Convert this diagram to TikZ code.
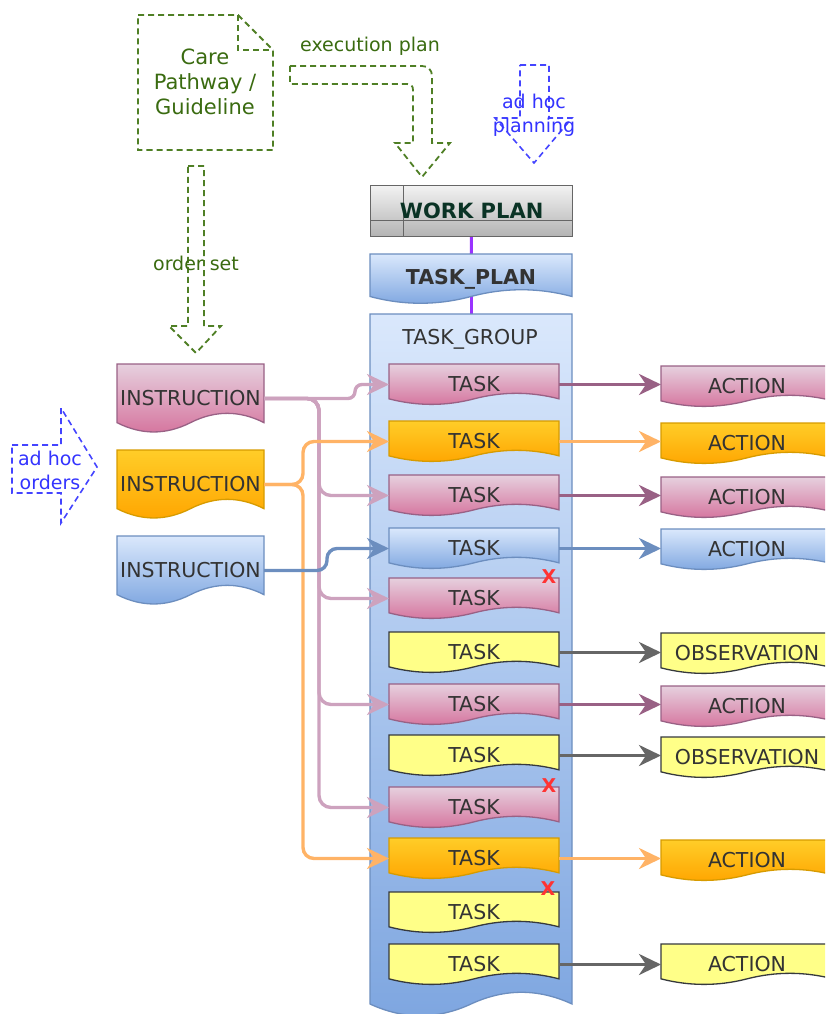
\documentclass[tikz,border=0pt]{standalone}
\usepackage{fontspec}
\setmainfont{DejaVu Sans}
\usetikzlibrary{arrows.meta}
\pgfdeclarelayer{bg}
\pgfsetlayers{bg,main}
\newdimen\dwxa \newdimen\dwya \newdimen\dwxb \newdimen\dwyb
\newdimen\dwdy \newdimen\dwbase \newdimen\dwcu \newdimen\dwcl
\newdimen\dwxq \newdimen\dwxm \newdimen\dwxt \newdimen\dww
\def\dwfrac{0.3}
\makeatletter
\pgfdeclareshape{docwave}{%
  \inheritsavedanchors[from=rectangle]%
  \inheritanchorborder[from=rectangle]%
  \inheritanchor[from=rectangle]{center}%
  \inheritanchor[from=rectangle]{north}%
  \inheritanchor[from=rectangle]{south}%
  \inheritanchor[from=rectangle]{east}%
  \inheritanchor[from=rectangle]{west}%
  \inheritanchor[from=rectangle]{north east}%
  \inheritanchor[from=rectangle]{north west}%
  \inheritanchor[from=rectangle]{south east}%
  \inheritanchor[from=rectangle]{south west}%
  \inheritanchor[from=rectangle]{text}%
  \inheritanchor[from=rectangle]{mid}%
  \inheritanchor[from=rectangle]{base}%
  \backgroundpath{%
    \southwest \dwxa=\pgf@x \dwya=\pgf@y
    \northeast \dwxb=\pgf@x \dwyb=\pgf@y
    \dwdy=\dwyb \advance\dwdy by -\dwya
    \dwdy=\dwfrac\dwdy
    \dww=\dwxb \advance\dww by -\dwxa
    \dwbase=\dwya \advance\dwbase by 0.5\dwdy
    \dwcu=\dwya \advance\dwcu by 1.4\dwdy
    \dwcl=\dwya \advance\dwcl by -0.4\dwdy
    \dwxq=\dwxa \advance\dwxq by 0.75\dww
    \dwxm=\dwxa \advance\dwxm by 0.5\dww
    \dwxt=\dwxa \advance\dwxt by 0.25\dww
    \pgfpathmoveto{\pgfqpoint{\dwxa}{\dwyb}}%
    \pgfpathlineto{\pgfqpoint{\dwxb}{\dwyb}}%
    \pgfpathlineto{\pgfqpoint{\dwxb}{\dwbase}}%
    \pgfpathquadraticcurveto{\pgfqpoint{\dwxq}{\dwcu}}{\pgfqpoint{\dwxm}{\dwbase}}%
    \pgfpathquadraticcurveto{\pgfqpoint{\dwxt}{\dwcl}}{\pgfqpoint{\dwxa}{\dwbase}}%
    \pgfpathclose
  }%
}
\makeatother
\definecolor{ctext}{HTML}{333333}
\definecolor{pinkT}{HTML}{E6D0DE}
\definecolor{pinkB}{HTML}{D5739D}
\definecolor{pinkS}{HTML}{996185}
\definecolor{pinkL}{HTML}{CDA2BE}
\definecolor{orT}{HTML}{FFCD28}
\definecolor{orB}{HTML}{FFA500}
\definecolor{orS}{HTML}{D79B00}
\definecolor{orL}{HTML}{FFB366}
\definecolor{blT}{HTML}{DAE8FC}
\definecolor{blB}{HTML}{7EA6E0}
\definecolor{blS}{HTML}{6C8EBF}
\definecolor{yeF}{HTML}{FFFF88}
\definecolor{yeS}{HTML}{36393D}
\definecolor{grL}{HTML}{666666}
\definecolor{wpT}{HTML}{F2F2F2}
\definecolor{wpB}{HTML}{B3B3B3}
\definecolor{wpText}{HTML}{0A3325}
\definecolor{purp}{HTML}{9933FF}
\definecolor{gdash}{HTML}{4F7F25}
\definecolor{gtext}{HTML}{3A6B10}
\definecolor{bdash}{HTML}{4444FF}
\definecolor{btext}{HTML}{3333FF}
\definecolor{xred}{HTML}{FF3333}
\tikzset{
  basefont/.style={font=\fontsize{20.5pt}{24pt}\selectfont, text=ctext},
  doc/.style={basefont, shape=docwave, inner sep=0pt, outer sep=0pt, line width=1.3pt, anchor=north west},
  taskbox/.style={doc, minimum width=170pt, minimum height=41pt},
  actbox/.style={doc, minimum width=172pt, minimum height=41pt},
  instbox/.style={doc, minimum width=147pt, minimum height=69pt},
  pinkf/.style={top color=pinkT, bottom color=pinkB, draw=pinkS},
  orf/.style={top color=orT, bottom color=orB, draw=orS},
  blf/.style={top color=blT, bottom color=blB, draw=blS},
  yef/.style={fill=yeF, draw=yeS},
  conn/.style={-{Stealth[length=22pt,width=21pt,inset=7pt]}, line width=3.4pt},
  pinkc/.style={conn, draw=pinkL, rounded corners=12pt},
  orc/.style={conn, draw=orL, rounded corners=11pt},
  blc/.style={conn, draw=blS, rounded corners=10pt},
  pinkd/.style={conn, draw=pinkS},
  grc/.style={conn, draw=grL},
  gdashed/.style={draw=gdash, line width=1.8pt, dash pattern=on 6pt off 4pt},
  bdashed/.style={draw=bdash, line width=1.6pt, dash pattern=on 6pt off 4pt},
  glabel/.style={font=\fontsize{19pt}{24pt}\selectfont, text=gtext, align=center},
  blabel/.style={font=\fontsize{19pt}{24pt}\selectfont, text=btext, align=center},
  xmark/.style={font=\fontsize{19pt}{20pt}\selectfont\bfseries, text=xred, inner sep=0pt},
  purpl/.style={draw=purp, line width=3pt}
}
\begin{document}
\begin{tikzpicture}[x=1pt,y=-1pt]
\useasboundingbox (0,0) rectangle (825,1014);
\clip (0,0) rectangle (825,1014);

% Care pathway document
\draw[gdashed] (138,15) -- (238,15) -- (273,50) -- (273,150) -- (138,150) -- cycle;
\draw[gdashed] (238,15) -- (238,50) -- (273,50);
\node[glabel, font=\fontsize{21pt}{25pt}\selectfont] (care) at (205,82) {Care\\Pathway /\\Guideline};

% execution plan arrow
\draw[gdashed] (290,66) -- (422,66) .. controls (428,66) and (432,70) .. (432,76) -- (432,143) -- (450,143) -- (422,177) -- (395,143) -- (413,143) -- (413,90) .. controls (413,86) and (411,84) .. (407,84) -- (290,84) -- cycle;
\node[glabel] (execlbl) at (370,46) {execution plan};

% order set arrow
\draw[gdashed] (188,166) -- (204,166) -- (204,326) -- (221,326) -- (196,353) -- (169,326) -- (188,326) -- cycle;
\node[glabel] (orderlbl) at (196,263) {order set};

% ad hoc planning arrow
\draw[bdashed] (520,65) -- (549,65) -- (549,118) -- (572,118) -- (534,163) -- (495,118) -- (520,118) -- cycle;
\node[blabel] (ahplan) at (534,115) {ad hoc\\planning};

% ad hoc orders arrow
\draw[bdashed] (12,445) -- (61,445) -- (61,408) -- (97,467) -- (61,523) -- (61,493) -- (12,493) -- cycle;
\node[blabel] (ahord) at (50,470) {ad hoc\\orders};

% WORK PLAN
\node[basefont, draw=grL, line width=1.3pt, top color=wpT, bottom color=wpB,
      minimum width=202pt, minimum height=51pt, inner sep=0pt, anchor=north west,
      font=\fontsize{21pt}{24pt}\selectfont\bfseries, text=wpText,
      path picture={
        \draw[grL, line width=1.3pt] ([xshift=33pt]path picture bounding box.north west) -- ([xshift=33pt]path picture bounding box.south west);
        \draw[grL, line width=1.3pt] ([yshift=-35pt]path picture bounding box.north west) -- ([yshift=-35pt]path picture bounding box.north east);
      }] (WP) at (370,185) {WORK PLAN};

% TASK_PLAN
\node[doc, blf, minimum width=202pt, minimum height=50pt, font=\fontsize{20.5pt}{24pt}\selectfont\bfseries] (TP) at (370,254) {TASK\_PLAN};

% TASK_GROUP
\def\dwfrac{0.037}
\node[doc, blf, minimum width=202pt, minimum height=703pt] (TG) at (370,314) {};
\def\dwfrac{0.3}
\node[basefont] (TGL) at (470,339) {TASK\_GROUP};

\begin{pgfonlayer}{bg}
\draw[purpl] (WP.center) -- (TP.center);
\draw[purpl] (TP.center) -- (TG.north);
\end{pgfonlayer}

% tasks
\node[taskbox, pinkf] (T1) at (389,364) {TASK};
\node[taskbox, orf] (T2) at (389,421) {TASK};
\node[taskbox, pinkf] (T3) at (389,475) {TASK};
\node[taskbox, blf] (T4) at (389,528) {TASK};
\node[taskbox, pinkf] (T5) at (389,578) {TASK};
\node[taskbox, yef] (T6) at (389,632) {TASK};
\node[taskbox, pinkf] (T7) at (389,684) {TASK};
\node[taskbox, yef] (T8) at (389,735) {TASK};
\node[taskbox, pinkf] (T9) at (389,787) {TASK};
\node[taskbox, orf] (T10) at (389,838) {TASK};
\node[taskbox, yef] (T11) at (389,892) {TASK};
\node[taskbox, yef] (T12) at (389,944) {TASK};

% cancelled marks
\node[xmark] (X5) at (549,577) {X};
\node[xmark] (X9) at (549,786) {X};
\node[xmark] (X11) at (548,889) {X};

% actions / observations
\node[actbox, pinkf] (A1) at (661,366) {ACTION};
\node[actbox, orf] (A2) at (661,423) {ACTION};
\node[actbox, pinkf] (A3) at (661,477) {ACTION};
\node[actbox, blf] (A4) at (661,529) {ACTION};
\node[actbox, yef] (A6) at (661,633) {OBSERVATION};
\node[actbox, pinkf] (A7) at (661,686) {ACTION};
\node[actbox, yef] (A8) at (661,737) {OBSERVATION};
\node[actbox, orf] (A10) at (661,840) {ACTION};
\node[actbox, yef] (A12) at (661,944) {ACTION};

% instructions
\node[instbox, pinkf] (I1) at (117,364) {INSTRUCTION};
\node[instbox, orf] (I2) at (117,450) {INSTRUCTION};
\node[instbox, blf] (I3) at (117,536) {INSTRUCTION};

% instruction -> task connectors
\draw[pinkc] (I1.east) -- ++(55,0) |- (T3.west);
\draw[pinkc] (I1.east) -- ++(55,0) |- (T5.west);
\draw[pinkc] (I1.east) -- ++(55,0) |- (T7.west);
\draw[pinkc] (I1.east) -- ++(55,0) |- (T9.west);
\draw[pinkc, rounded corners=7pt] (I1.east) -- ++(91,0) |- (T1.west);
\draw[orc] (I2.east) -- ++(39,0) |- (T2.west);
\draw[orc] (I2.east) -- ++(39,0) |- (T10.west);
\draw[blc] (I3.east) -- ++(63,0) |- (T4.west);

% task -> action connectors
\draw[pinkd] (T1.east) -- (T1.east -| A1.west);
\draw[conn, draw=orL] (T2.east) -- (T2.east -| A2.west);
\draw[pinkd] (T3.east) -- (T3.east -| A3.west);
\draw[conn, draw=blS] (T4.east) -- (T4.east -| A4.west);
\draw[grc] (T6.east) -- (T6.east -| A6.west);
\draw[pinkd] (T7.east) -- (T7.east -| A7.west);
\draw[grc] (T8.east) -- (T8.east -| A8.west);
\draw[conn, draw=orL] (T10.east) -- (T10.east -| A10.west);
\draw[grc] (T12.east) -- (T12.east -| A12.west);
\end{tikzpicture}
\end{document}
